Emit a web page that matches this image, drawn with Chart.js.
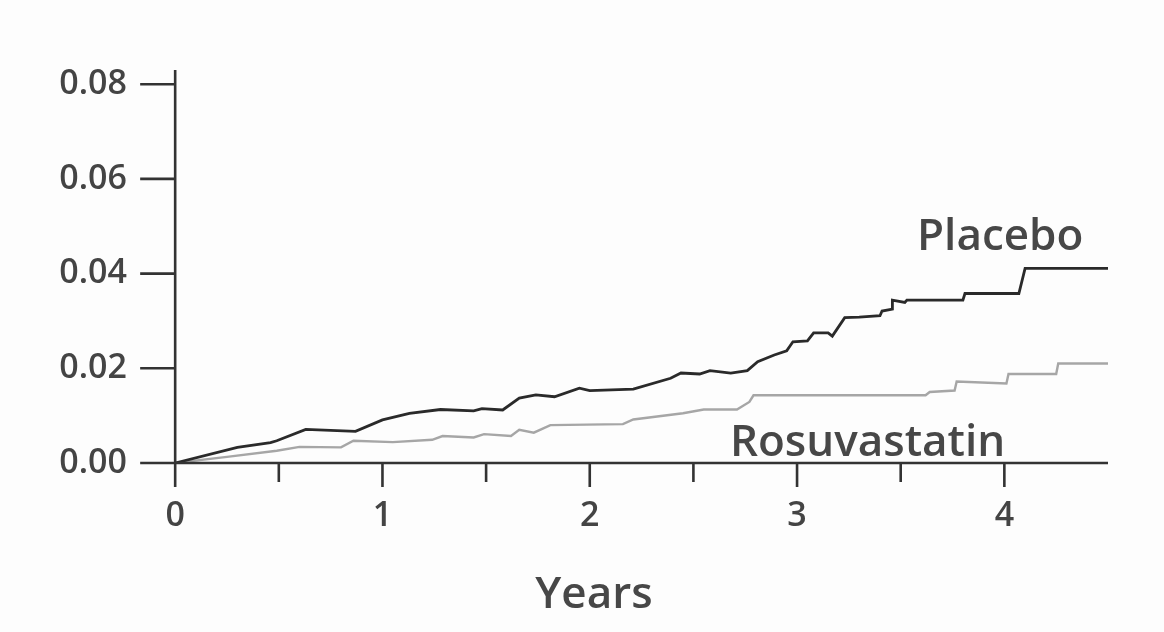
<!DOCTYPE html>
<html>
<head>
<meta charset="utf-8">
<title>Placebo vs Rosuvastatin</title>
<script src="https://cdn.jsdelivr.net/npm/chart.js@4.4.1/dist/chart.umd.min.js"></script>
<style>
	html, body { margin: 0; padding: 0; background: #fdfdfd; }
	.chart-box { position: relative; width: 1164px; height: 632px; }
</style>
</head>
<body>
<div class="chart-box"><canvas id="km-chart"></canvas></div>
<script>
var yearTicks = [0, 1, 2, 3, 4];
var halfYearTicks = [0.5, 1.5, 2.5, 3.5];
var rateTicks = [0, 0.02, 0.04, 0.06, 0.08];

// cumulative incidence
var placeboYears = [0, 0.30, 0.46, 0.49, 0.63, 0.87, 1.00, 1.13, 1.28, 1.44, 1.48, 1.58, 1.66, 1.74, 1.83, 1.95, 2.00, 2.21,
	2.39, 2.44, 2.53, 2.58, 2.68, 2.76, 2.81, 2.89, 2.95, 2.98, 3.05, 3.08, 3.15, 3.17, 3.23, 3.30, 3.40, 3.41, 3.46, 3.46,
	3.52, 3.53, 3.80, 3.81, 4.07, 4.10, 4.50];
var placeboRate = [0, 0.0033, 0.0043, 0.0047, 0.0071, 0.0067, 0.0091, 0.0105, 0.0113, 0.0110, 0.0115, 0.0112, 0.0137, 0.0144,
	0.0140, 0.0158, 0.0153, 0.0156, 0.0179, 0.0190, 0.0188, 0.0195, 0.0190, 0.0195, 0.0214, 0.0228, 0.0237, 0.0256, 0.0258,
	0.0275, 0.0275, 0.0268, 0.0307, 0.0308, 0.0311, 0.0321, 0.0325, 0.0344, 0.0339, 0.0344, 0.0344, 0.0358, 0.0358, 0.0411, 0.0411];

var rosuYears = [0, 0.25, 0.49, 0.60, 0.80, 0.86, 1.05, 1.24, 1.29, 1.44, 1.49, 1.62, 1.66, 1.73, 1.81, 2.16, 2.21, 2.45,
	2.55, 2.71, 2.77, 2.79, 3.62, 3.64, 3.76, 3.77, 4.01, 4.02, 4.25, 4.26, 4.50];
var rosuRate = [0, 0.0013, 0.0026, 0.0034, 0.0033, 0.0047, 0.0044, 0.0049, 0.0057, 0.0054, 0.0061, 0.0057, 0.0070, 0.0064,
	0.0080, 0.0082, 0.0092, 0.0105, 0.0113, 0.0113, 0.0129, 0.0143, 0.0143, 0.0150, 0.0153, 0.0172, 0.0168, 0.0188, 0.0188,
	0.0210, 0.0210];

function toPoints(xs, ys) {
	return xs.map(function(x, i){ return {x: x, y: ys[i]}; });
}

// axis lines, tick marks, axis title and the curve labels
var axisPlugin = {
	id: 'axisLines',
	afterDatasetsDraw: function(chart) {
		var ctx = chart.ctx;
		var xs = chart.scales.x, ys = chart.scales.y;
		var x0 = xs.getPixelForValue(0), y0 = ys.getPixelForValue(0);

		ctx.save();
		ctx.strokeStyle = '#333';
		ctx.lineWidth = 2.6;
		ctx.beginPath();
		ctx.moveTo(x0, ys.top);
		ctx.lineTo(x0, y0);
		ctx.moveTo(xs.left, y0);
		ctx.lineTo(xs.right, y0);
		rateTicks.forEach(function(v){
			var p = ys.getPixelForValue(v);
			ctx.moveTo(x0 - 35, p);
			ctx.lineTo(x0, p);
		});
		yearTicks.forEach(function(v){
			var p = xs.getPixelForValue(v);
			ctx.moveTo(p, y0);
			ctx.lineTo(p, y0 + 24);
		});
		halfYearTicks.forEach(function(v){
			var p = xs.getPixelForValue(v);
			ctx.moveTo(p, y0);
			ctx.lineTo(p, y0 + 19);
		});
		ctx.stroke();

		ctx.fillStyle = '#474747';
		ctx.font = '600 44px "Open Sans"';
		ctx.textAlign = 'center';
		ctx.textBaseline = 'alphabetic';
		ctx.fillText('Placebo', xs.getPixelForValue(3.98), ys.getPixelForValue(0.0450));
		ctx.fillText('Rosuvastatin', xs.getPixelForValue(3.34), ys.getPixelForValue(0.0015));
		ctx.fillText('Years', xs.getPixelForValue(2.02), y0 + 145);
		ctx.restore();
	}
};

Chart.defaults.font.family = '"Open Sans", sans-serif';
Chart.defaults.color = '#444';

var ctx = document.getElementById('km-chart');
var kmChart = new Chart(ctx, {
	type: 'line',
	data: {
		datasets: [
			{
				label: 'Placebo',
				data: toPoints(placeboYears, placeboRate),
				borderColor: '#2a2a2a',
				borderWidth: 2.8,
				pointRadius: 0,
				tension: 0
			},
			{
				label: 'Rosuvastatin',
				data: toPoints(rosuYears, rosuRate),
				borderColor: '#a6a6a6',
				borderWidth: 2.4,
				pointRadius: 0,
				tension: 0
			}
		]
	}, //data
	options: {
		responsive: true,
		maintainAspectRatio: false,
		animation: false,
		layout: {
			padding: {left: 0, right: 56, top: 70, bottom: 0}
		},
		scales: {
			x: {
				type: 'linear',
				min: -0.16,
				max: 4.5,
				afterBuildTicks: function(scale){
					scale.ticks = yearTicks.map(function(v){ return {value: v}; });
				},
				afterFit: function(scale){ scale.height = 169; },
				ticks: {
					padding: 33,
					font: {size: 34, weight: '600'},
					callback: function(value){ return String(value); }
				},
				grid: {display: false, drawTicks: false},
				border: {display: false}
			},
			y: {
				min: 0,
				max: 0.083,
				afterBuildTicks: function(scale){
					scale.ticks = rateTicks.map(function(v){ return {value: v}; });
				},
				afterFit: function(scale){ scale.width = 142; },
				ticks: {
					padding: 15,
					font: {size: 34, weight: '600'},
					callback: function(value){ return value.toFixed(2); }
				},
				grid: {display: false, drawTicks: false},
				border: {display: false}
			}
		}, //scales
		plugins: {
			legend: {display: false},
			tooltip: {enabled: false}
		}
	}, //options
	plugins: [axisPlugin]
}); //kmChart
</script>
</body>
</html>
